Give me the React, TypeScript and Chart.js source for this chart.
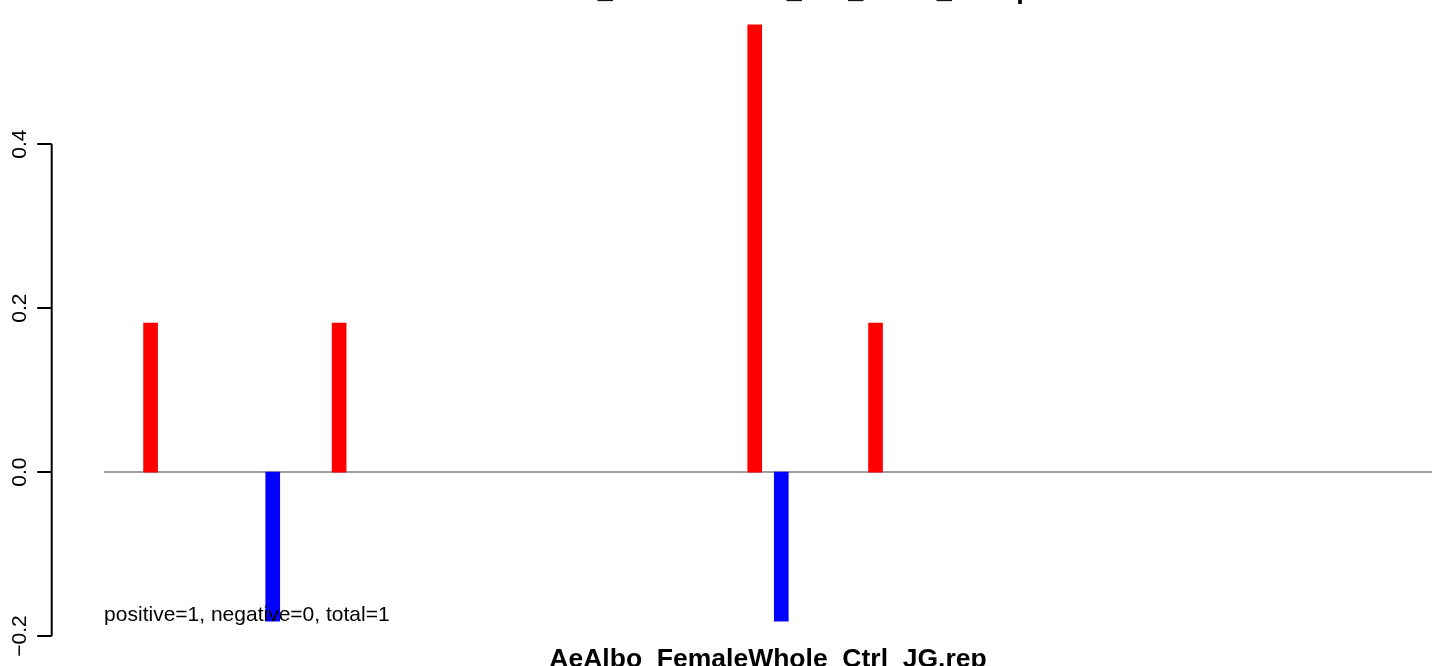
import { useEffect, useRef } from "react";
import { Chart, registerables } from "chart.js";

Chart.register(...registerables);

// ---- data ----
const positiveX = [35, 177, 490, 581];
const positiveY = [0.1818, 0.1818, 0.5454, 0.1818];
const negativeX = [127, 510];
const negativeY = [-0.1818, -0.1818];
const baselineX = [0, 1000];
const yTicks = [-0.2, 0, 0.2, 0.4];
const yTickLabels = ["\u22120.2", "0.0", "0.2", "0.4"];
const titleText = "AeAlbo_FemaleWhole_Ctrl_Down_Group";
const xLabel = "AeAlbo_FemaleWhole_Ctrl_JG.rep";
const noteText = "positive=1, negative=0, total=1";

const X_MIN = baselineX[0];
const X_MAX = baselineX[1];
const Y_MIN = -0.1818;
const Y_MAX = 0.5454;
const xPad = (X_MAX - X_MIN) * 0.04;
const yPad = (Y_MAX - Y_MIN) * 0.04;

const CANVAS_W = 1500;
const CANVAS_H = 766;
const TOP_SHIFT = 60;

export default function App() {
  const ref = useRef<HTMLCanvasElement>(null);

  useEffect(() => {
    document.body.style.margin = "0";
    const decor = {
      id: "rdecor",
      afterDraw(chart: any) {
        const ctx = chart.ctx as CanvasRenderingContext2D;
        const ys = chart.scales.y;
        const xs = chart.scales.x;
        const area = chart.chartArea;
        const axisX = area.left + 0.7;
        ctx.save();
        // y axis
        ctx.strokeStyle = "#000";
        ctx.lineWidth = 2;
        ctx.beginPath();
        ctx.moveTo(axisX, ys.getPixelForValue(yTicks[0]));
        ctx.lineTo(axisX, ys.getPixelForValue(yTicks[yTicks.length - 1]));
        yTicks.forEach((t) => {
          const py = ys.getPixelForValue(t);
          ctx.moveTo(axisX - 14.5, py);
          ctx.lineTo(axisX, py);
        });
        ctx.stroke();
        ctx.fillStyle = "#000";
        ctx.font = "21px 'Liberation Sans', Arial, sans-serif";
        yTicks.forEach((t, i) => {
          const py = ys.getPixelForValue(t);
          ctx.save();
          ctx.translate(26, py);
          ctx.rotate(-Math.PI / 2);
          ctx.textAlign = "center";
          ctx.textBaseline = "alphabetic";
          ctx.fillText(yTickLabels[i], 0, 0);
          ctx.restore();
        });
        const cx = (area.left + area.right) / 2;
        // title (mostly above the visible window)
        ctx.font = "bold 27px 'Liberation Sans', Arial, sans-serif";
        ctx.textAlign = "center";
        ctx.textBaseline = "alphabetic";
        ctx.fillText(titleText, cx, TOP_SHIFT - 2.5);
        // x label
        ctx.font = "bold 26.5px 'Liberation Sans', Arial, sans-serif";
        ctx.fillText(xLabel, cx, TOP_SHIFT + 667);
        // note
        ctx.font = "21px 'Liberation Sans', Arial, sans-serif";
        ctx.textAlign = "left";
        ctx.fillText(noteText, xs.getPixelForValue(baselineX[0]), ys.getPixelForValue(negativeY[0]));
        ctx.restore();
      },
    };

    const chart = new Chart(ref.current!, {
      type: "bar",
      data: {
        datasets: [
          {
            type: "line",
            label: "baseline",
            data: baselineX.map((x) => ({ x, y: 0 })),
            borderColor: "#a0a0a0",
            borderWidth: 2,
            pointRadius: 0,
            order: 3,
          } as any,
          {
            label: "positive",
            data: positiveX.map((x, i) => ({ x, y: positiveY[i] })),
            backgroundColor: "#ff0000",
            borderWidth: 0,
            barThickness: 14,
            grouped: false,
            order: 1,
          } as any,
          {
            label: "negative",
            data: negativeX.map((x, i) => ({ x, y: negativeY[i] })),
            backgroundColor: "#0000ff",
            borderWidth: 0,
            barThickness: 14,
            grouped: false,
            order: 1,
          } as any,
        ],
      },
      options: {
        responsive: false,
        animation: false,
        devicePixelRatio: 1,
        layout: { padding: { left: 51, right: 15, top: 61, bottom: 61 } },
        scales: {
          x: {
            type: "linear",
            display: false,
            offset: false,
            min: X_MIN - xPad,
            max: X_MAX + xPad,
          },
          y: {
            type: "linear",
            display: false,
            min: Y_MIN - yPad,
            max: Y_MAX + yPad,
          },
        },
        plugins: {
          legend: { display: false },
          tooltip: { enabled: false },
          title: { display: false },
        },
      },
      plugins: [decor],
    });
    return () => chart.destroy();
  }, []);

  return (
    <div
      style={{
        position: "fixed",
        left: 0,
        top: 0,
        width: 1433,
        height: 666,
        overflow: "hidden",
        background: "#ffffff",
      }}
    >
      <canvas
        ref={ref}
        width={CANVAS_W}
        height={CANVAS_H}
        style={{ position: "absolute", left: 0, top: -TOP_SHIFT, width: CANVAS_W, height: CANVAS_H }}
      />
    </div>
  );
}
